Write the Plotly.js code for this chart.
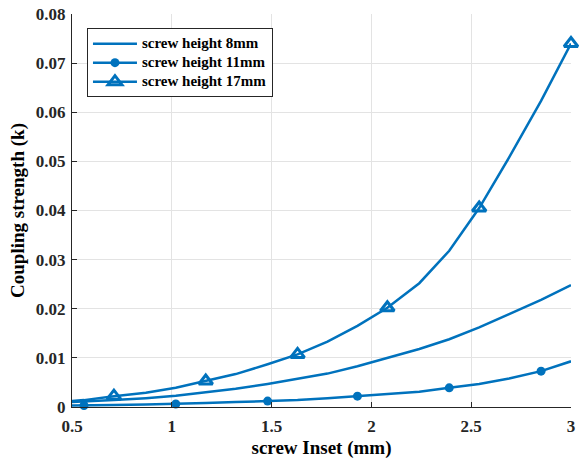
<!DOCTYPE html>
<html>
<head>
<meta charset="utf-8">
<script src="https://cdn.plot.ly/plotly-3.0.1.min.js"></script>
<style>html,body{margin:0;padding:0;background:#fff}#chart{width:584px;height:459px}</style>
</head>
<body>
<div id="chart"></div>
<script>
// sampled screw inset positions (mm)
const inset = [0.5, 0.56, 0.71, 0.87, 1.02, 1.17, 1.32, 1.48, 1.63, 1.78, 1.93, 2.08, 2.24, 2.39, 2.54, 2.69, 2.85, 3.0];
const k8mm  = [0.0010, 0.0011, 0.0014, 0.0018, 0.0023, 0.0030, 0.0037, 0.0047, 0.0057, 0.0068, 0.0083, 0.0100, 0.0118, 0.0138, 0.0162, 0.0189, 0.0218, 0.0248];
const k11mm = [0.0003, 0.0003, 0.0004, 0.0005, 0.0006, 0.0008, 0.0010, 0.0012, 0.0014, 0.0018, 0.0022, 0.0026, 0.0031, 0.0039, 0.0047, 0.0058, 0.0073, 0.0093];
const k17mm = [0.0012, 0.0014, 0.0022, 0.0029, 0.0039, 0.0053, 0.0067, 0.0087, 0.0107, 0.0133, 0.0165, 0.0202, 0.0252, 0.0318, 0.0405, 0.0508, 0.0623, 0.0740];
// indices of samples that carry a marker
const markIdx11 = [1, 4, 7, 10, 13, 16];
const markIdx17 = [2, 5, 8, 11, 14, 17];
const seriesNames = ['screw height 8mm', 'screw height 11mm', 'screw height 17mm'];
const xTitle = 'screw Inset (mm)';
const yTitle = 'Coupling strength (k)';

const C = '#0072BD';
const LW = 2.5;
const pick = (arr, idx) => idx.map(i => arr[i]);
const legName = s => '<span style="font-size:15px">' + s + '</span>';
const triMarker = {symbol: 'triangle-up-open', size: 12, color: C, line: {width: 3, color: C}};

const traces = [
  {x: inset, y: k8mm, mode: 'lines', line: {color: C, width: LW}, showlegend: false, hoverinfo: 'skip'},
  {x: inset, y: k11mm, mode: 'lines', line: {color: C, width: LW}, showlegend: false, hoverinfo: 'skip'},
  {x: inset, y: k17mm, mode: 'lines', line: {color: C, width: LW}, showlegend: false, hoverinfo: 'skip'},
  {x: pick(inset, markIdx11), y: pick(k11mm, markIdx11), mode: 'markers', showlegend: false, cliponaxis: false,
   marker: {symbol: 'circle', size: 9, color: C}},
  {x: pick(inset, markIdx17), y: pick(k17mm, markIdx17), mode: 'markers', showlegend: false, cliponaxis: false,
   marker: triMarker},
  // legend entries
  {x: [null], y: [null], mode: 'lines', name: legName(seriesNames[0]), line: {color: C, width: LW}},
  {x: [null], y: [null], mode: 'lines+markers', name: legName(seriesNames[1]), line: {color: C, width: LW},
   marker: {symbol: 'circle', size: 9, color: C}},
  {x: [null], y: [null], mode: 'lines+markers', name: legName(seriesNames[2]), line: {color: C, width: LW},
   marker: triMarker}
];

const font = {family: '"Liberation Serif", "Times New Roman", serif', color: '#262626'};
const layout = {
  width: 584, height: 459,
  margin: {l: 72, r: 13, t: 14, b: 52},
  paper_bgcolor: '#fff', plot_bgcolor: '#fff',
  font: font,
  showlegend: true,
  legend: {
    x: 0.03, y: 0.964, xanchor: 'left', yanchor: 'top',
    bgcolor: '#fff', bordercolor: '#262626', borderwidth: 1,
    itemwidth: 44,
    font: {family: font.family, size: 11.5, color: '#000', weight: 'bold'},
    tracegroupgap: 0
  },
  xaxis: {
    range: [0.5, 3], dtick: 0.5, tick0: 0.5,
    showgrid: true, gridcolor: '#e3e3e3', gridwidth: 1,
    zeroline: false, showline: true, linecolor: '#262626', linewidth: 1,
    ticks: 'inside', ticklen: 5, tickcolor: '#262626', ticklabelstandoff: 4,
    tickfont: {family: font.family, size: 17, color: '#262626', weight: 'bold'},
    title: {text: xTitle, font: {family: font.family, size: 19, color: '#000', weight: 'bold'}, standoff: 8}
  },
  yaxis: {
    range: [0, 0.08], dtick: 0.01,
    showgrid: true, gridcolor: '#e3e3e3', gridwidth: 1,
    zeroline: false, showline: true, linecolor: '#262626', linewidth: 1,
    ticks: 'inside', ticklen: 5, tickcolor: '#262626', ticklabelstandoff: 2,
    tickfont: {family: font.family, size: 17, color: '#262626', weight: 'bold'},
    title: {text: yTitle, font: {family: font.family, size: 19, color: '#000', weight: 'bold'}, standoff: 6}
  }
};

Plotly.newPlot('chart', traces, layout, {displayModeBar: false, staticPlot: true});
</script>
</body>
</html>
